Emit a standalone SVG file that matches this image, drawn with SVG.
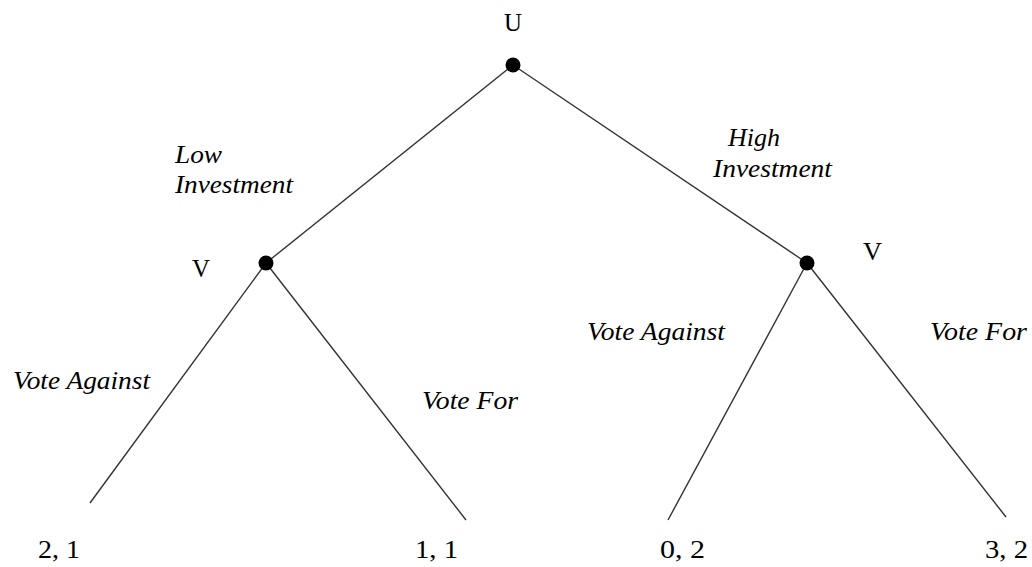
<svg xmlns="http://www.w3.org/2000/svg" width="1032" height="567" viewBox="0 0 1032 567">
<style>
.t{font-family:"Liberation Serif","Times New Roman",serif;font-size:25px;fill:#000}
.i{font-style:italic}
.e{stroke:#333;stroke-width:1.4;fill:none}
.d{fill:#000}
</style>
<rect width="1032" height="567" fill="#fff"/>
<g id="connectors">
<line class="e" x1="513" y1="65" x2="266" y2="263"/>
<line class="e" x1="513" y1="65" x2="807" y2="263"/>
<line class="e" x1="266" y1="263" x2="90" y2="503"/>
<line class="e" x1="266" y1="263" x2="466" y2="520"/>
<line class="e" x1="807" y1="263" x2="668" y2="520"/>
<line class="e" x1="807" y1="263" x2="1006" y2="517"/>
</g>
<g id="node-U">
<circle class="d" cx="513" cy="65" r="7.5"/>
<text class="t" x="504" y="31" textLength="18" lengthAdjust="spacingAndGlyphs">U</text>
</g>
<g id="node-V-left">
<circle class="d" cx="266" cy="263" r="7.5"/>
<text class="t" x="192" y="277" textLength="18" lengthAdjust="spacingAndGlyphs">V</text>
</g>
<g id="node-V-right">
<circle class="d" cx="807" cy="263" r="7.5"/>
<text class="t" x="863" y="260" textLength="19" lengthAdjust="spacingAndGlyphs">V</text>
</g>
<g id="label-low">
<text class="t i" x="175" y="163" textLength="47" lengthAdjust="spacingAndGlyphs">Low</text>
<text class="t i" x="175" y="193" textLength="118" lengthAdjust="spacingAndGlyphs">Investment</text>
</g>
<g id="label-high">
<text class="t i" x="728" y="146" textLength="52" lengthAdjust="spacingAndGlyphs">High</text>
<text class="t i" x="713" y="177" textLength="119" lengthAdjust="spacingAndGlyphs">Investment</text>
</g>
<g id="label-vote-against-left">
<text class="t i" x="13" y="389" textLength="137" lengthAdjust="spacingAndGlyphs">Vote Against</text>
</g>
<g id="label-vote-for-left">
<text class="t i" x="422" y="409" textLength="96" lengthAdjust="spacingAndGlyphs">Vote For</text>
</g>
<g id="label-vote-against-right">
<text class="t i" x="587" y="340" textLength="138" lengthAdjust="spacingAndGlyphs">Vote Against</text>
</g>
<g id="label-vote-for-right">
<text class="t i" x="930" y="340" textLength="97" lengthAdjust="spacingAndGlyphs">Vote For</text>
</g>
<g id="payoff-1"><text class="t" x="38" y="558" textLength="42" lengthAdjust="spacingAndGlyphs">2, 1</text></g>
<g id="payoff-2"><text class="t" x="415" y="558" textLength="43" lengthAdjust="spacingAndGlyphs">1, 1</text></g>
<g id="payoff-3"><text class="t" x="660" y="558" textLength="45" lengthAdjust="spacingAndGlyphs">0, 2</text></g>
<g id="payoff-4"><text class="t" x="985" y="558" textLength="43" lengthAdjust="spacingAndGlyphs">3, 2</text></g>
</svg>
